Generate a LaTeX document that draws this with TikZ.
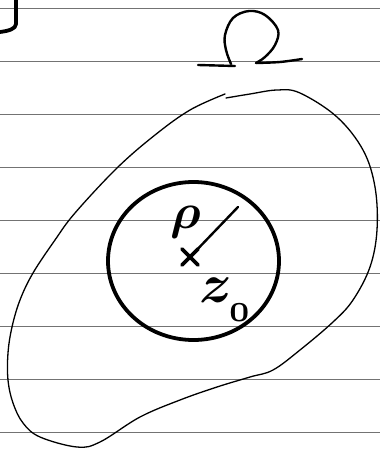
\documentclass[tikz,border=0pt]{standalone}
\usepackage{tikz}
\usepackage{bm}
\begin{document}
\begin{tikzpicture}[x=1pt,y=-1pt,
  rule/.style={draw=black!55,line width=0.7pt},
  ink/.style={draw=black,line cap=round,line join=round},
  blobline/.style={ink,line width=1.3pt},
  thickink/.style={ink,line width=3.8pt},
  omegaink/.style={ink,line width=2.4pt},
  crossink/.style={ink,line width=3.6pt},
  handtext/.style={inner sep=0pt,text=black}]
\useasboundingbox (0,0) rectangle (380,449);
\fill[white] (0,0) rectangle (380,449);
% ruled lines
\foreach \k in {0,...,8}{
  \draw[rule] (0,{8.3+53.05*\k}) -- (380,{8.3+53.05*\k});
}
% top-left bracket
\draw[thickink] (16,0) -- (16,24) .. controls (16,29) and (8,31) .. (0,32);
% Omega
\draw[omegaink] (198,65) -- (235,66);
\draw[omegaink] plot[smooth,tension=0.6] coordinates {(231,64) (226,50) (225,35) (233,18) (249,11) (265,15) (278,30) (275,45) (265,57) (256,63)};
\draw[omegaink] plot[smooth,tension=0.6] coordinates {(256,63) (280,62) (302,59)};
% big region
\draw[blobline] plot[smooth,tension=0.6] coordinates {(226,98) (250,94) (277,90) (300,93) (337,117) (363,150) (375,187) (377,230) (370,267) (353,300) (333,322) (300,350) (273,370) (250,377) (217,387) (180,400) (140,417) (100,442) (77,447) (40,437) (23,423) (13,403) (8,380) (8,353) (12,327) (20,300) (33,273) (55,240) (75,213) (117,168) (155,135) (190,110) (225,94)};
% disc
\draw[thickink] (193.5,261) ellipse [x radius=85.5, y radius=79];
% centre and radius
\coordinate (c) at (190,257);
\coordinate (r) at (238,207);
\draw[crossink] (182,249) -- (198,265);
\draw[crossink] (198,249) -- (182,265);
\draw[ink,line width=2.4pt] (c) -- (r);
\node[handtext,scale=5,anchor=base] (rho) at (186,228) {$\bm{\rho}$};
\node[handtext,scale=5.5,anchor=base west] (z) at (198,302) {$\bm{z}\mkern-1mu_{\lower2pt\hbox{$\scriptscriptstyle\bm{0}$}}$};
\end{tikzpicture}
\end{document}
